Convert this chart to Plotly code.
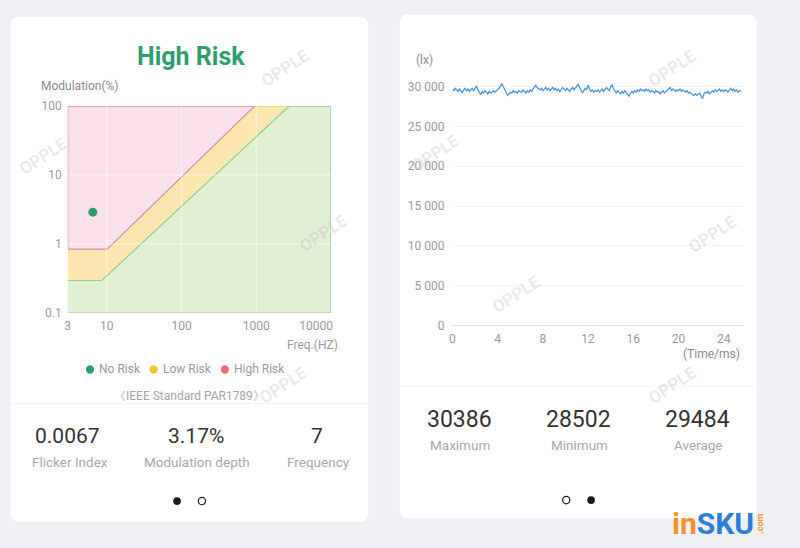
import math
import plotly.graph_objects as go

W, H = 800, 548

# ---------------- data: left chart (IEEE PAR1789 risk regions) ----------------
GREEN_F = [3, 8.57, 2760, 10000, 10000, 3]
GREEN_M = [0.296, 0.296, 100, 100, 0.1, 0.1]
YELLOW_F = [3, 10.1, 948, 2760, 8.57, 3]
YELLOW_M = [0.843, 0.843, 100, 100, 0.296, 0.296]
PINK_F = [3, 948, 10.1, 3, 3]
PINK_M = [100, 100, 0.843, 0.843, 100]
POINT_F = [6.5]
POINT_M = [2.9]
X_TICKS = [3, 10, 100, 1000, 10000]
X_TICKTEXT = ["3", "10", "100", "1000", "10000" + "\u00a0" * 10]
Y_TICKS = [0.1, 1, 10, 100]
Y_TICKTEXT = ["0.1", "1", "10", "100"]
GRID_F = [10, 100, 1000]
GRID_M = [1, 10]

LEFT_STATS = ["0.0067", "3.17%", "7"]
LEFT_LABELS = ["Flicker Index", "Modulation depth", "Frequency"]

# ---------------- data: right chart (illuminance vs time) ----------------
LUX = [
    29700, 29500, 29800, 29600, 29400, 29700, 29500, 29200,
    29600, 29800, 29500, 29700, 29400, 29600, 29800, 29500,
    29900, 30100, 29600, 29300, 29000, 29400, 29200, 29500,
    29300, 29100, 29400, 29200, 29300, 29500, 29300, 29400,
    29600, 29800, 30100, 30386, 30000, 29700, 29300, 28900,
    29100, 29300, 29200, 29500, 29300, 29400, 29200, 29500,
    29400, 29300, 29600, 29400, 29200, 29500, 29300, 29600,
    29400, 29700, 30000, 30200, 29900, 29700, 29600, 29800,
    29500, 29700, 29900, 29600, 29800, 29500, 29700, 29900,
    29600, 29800, 29500, 29700, 29400, 29600, 29900, 29700,
    29500, 29800, 29600, 29400, 29700, 29900, 29600, 29800,
    30000, 30300, 29900, 29600, 29200, 29500, 29800, 29600,
    30200, 29700, 29400, 29600, 29300, 29500, 29400, 29600,
    29300, 29500, 29700, 29400, 29600, 29900, 29700, 29500,
    30000, 30200, 29700, 29400, 29200, 29500, 29300, 29100,
    29400, 29200, 29500, 29300, 29100, 28800, 29200, 29400,
    29200, 29500, 29300, 29600, 29400, 29700, 29500, 29600,
    29400, 29700, 29500, 29600, 29300, 29500, 29400, 29200,
    29500, 29300, 29400, 29100, 29300, 29500, 29200, 29400,
    29600, 29800, 29900, 29500, 29700, 29600, 29400, 29600,
    29500, 29700, 29400, 29600, 29500, 29300, 29500, 29200,
    29300, 29100, 29000, 28900, 29100, 28900, 29000, 29200,
    28800, 28502, 29100, 29300, 29200, 29400, 29100, 29300,
    29500, 29300, 29600, 29400, 29500, 29700, 29400, 29600,
    29400, 29600, 29500, 29300, 29600, 29800, 29500, 29700,
    29400, 29600, 29300, 29500, 29400,
]
SAMPLE_MS = 0.125
TIME_MS = [i * SAMPLE_MS for i in range(len(LUX))]
T_TICKS = [0, 4, 8, 12, 16, 20, 24]
LUX_TICKS = [0, 5000, 10000, 15000, 20000, 25000, 30000]
LUX_TICKTEXT = ["0", "5 000", "10 000", "15 000", "20 000", "25 000", "30 000"]

RIGHT_STATS = ["30386", "28502", "29484"]
RIGHT_LABELS = ["Maximum", "Minimum", "Average"]

# ---------------- styling ----------------
FONT = "Roboto"
GRAY = "#9a9a9a"
DARK = "#333333"
GREEN_TXT = "#2f9e6e"
PINK_FILL, PINK_LINE = "#fbe1ec", "#dc8e9c"
YEL_FILL, YEL_LINE = "#fde6b0", "#f3cf80"
GRN_FILL, GRN_LINE = "#e1f0d3", "#8fcc97"


def px(x):
    return x / W


def py(y):
    return 1 - y / H


def rrect(x0, y0, x1, y1, r):
    return (f"M {px(x0 + r)},{py(y0)} L {px(x1 - r)},{py(y0)} "
            f"Q {px(x1)},{py(y0)} {px(x1)},{py(y0 + r)} L {px(x1)},{py(y1 - r)} "
            f"Q {px(x1)},{py(y1)} {px(x1 - r)},{py(y1)} L {px(x0 + r)},{py(y1)} "
            f"Q {px(x0)},{py(y1)} {px(x0)},{py(y1 - r)} L {px(x0)},{py(y0 + r)} "
            f"Q {px(x0)},{py(y0)} {px(x0 + r)},{py(y0)} Z")


fig = go.Figure()

# left chart regions
fig.add_trace(go.Scatter(x=YELLOW_F, y=YELLOW_M, fill="toself", fillcolor=YEL_FILL,
                         mode="lines", line=dict(color=YEL_LINE, width=1),
                         xaxis="x", yaxis="y", hoverinfo="skip"))
fig.add_trace(go.Scatter(x=GREEN_F, y=GREEN_M, fill="toself", fillcolor=GRN_FILL,
                         mode="lines", line=dict(color=GRN_LINE, width=1.2),
                         xaxis="x", yaxis="y", hoverinfo="skip"))
fig.add_trace(go.Scatter(x=PINK_F, y=PINK_M, fill="toself", fillcolor=PINK_FILL,
                         mode="lines", line=dict(color=PINK_LINE, width=1.2),
                         xaxis="x", yaxis="y", hoverinfo="skip"))
# grid lines drawn over the fills
gx, gy = [], []
for f in GRID_F:
    gx += [f, f, None]
    gy += [0.1, 100, None]
for m in GRID_M:
    gx += [3, 10000, None]
    gy += [m, m, None]
fig.add_trace(go.Scatter(x=gx, y=gy, mode="lines",
                         line=dict(color="rgba(255,255,255,0.55)", width=1),
                         xaxis="x", yaxis="y", hoverinfo="skip"))
fig.add_trace(go.Scatter(x=POINT_F, y=POINT_M, mode="markers",
                         marker=dict(color=GREEN_TXT, size=9),
                         xaxis="x", yaxis="y"))

# right chart line
fig.add_trace(go.Scatter(x=TIME_MS, y=LUX, mode="lines",
                         line=dict(color="#4f94dc", width=1.3),
                         xaxis="x2", yaxis="y2"))

tickfont = dict(family=FONT, size=12, color=GRAY)
fig.update_layout(
    width=W, height=H,
    margin=dict(l=0, r=0, t=0, b=0),
    paper_bgcolor="#eff0f3",
    plot_bgcolor="rgba(0,0,0,0)",
    showlegend=False,
    font=dict(family=FONT),
    xaxis=dict(type="log", domain=[px(67.7), px(343)],
               range=[math.log10(3), 4], anchor="y",
               tickvals=X_TICKS, ticktext=X_TICKTEXT, tickfont=tickfont,
               showgrid=False, zeroline=False, showline=False,
               ticks="", ticklabelstandoff=4, fixedrange=True),
    yaxis=dict(type="log", domain=[py(314), py(101.7)],
               range=[-1, 2], anchor="x",
               tickvals=Y_TICKS, ticktext=Y_TICKTEXT, tickfont=tickfont,
               showgrid=False, zeroline=False, showline=False,
               ticks="", ticklabelstandoff=5, fixedrange=True),
    xaxis2=dict(domain=[px(470), px(775)], range=[0, 25.8], anchor="y2",
                tickvals=T_TICKS, tickfont=tickfont,
                showgrid=False, zeroline=False, showline=True,
                linecolor="#e6e6e6", linewidth=1,
                ticks="", ticklabelstandoff=2, fixedrange=True),
    yaxis2=dict(domain=[py(326.7), py(73.6)], range=[0, 31000], anchor="x2",
                tickvals=LUX_TICKS, ticktext=LUX_TICKTEXT, tickfont=tickfont,
                showgrid=True, gridcolor="#f3f3f3", gridwidth=1,
                zeroline=False, showline=False,
                ticks="", ticklabelstandoff=7, fixedrange=True),
)

shapes = []
# cards
shapes.append(dict(type="path", xref="paper", yref="paper", layer="below",
                   path=rrect(8, 10, 382, 528, 9), fillcolor="white",
                   line=dict(width=0)))
shapes.append(dict(type="path", xref="paper", yref="paper", layer="below",
                   path=rrect(415, 8, 788, 525, 9), fillcolor="white",
                   line=dict(width=0)))
# separators
shapes.append(dict(type="line", xref="paper", yref="paper", layer="below",
                   x0=px(8), x1=px(382), y0=py(407), y1=py(407),
                   line=dict(color="#f2f2f2", width=1)))
shapes.append(dict(type="line", xref="paper", yref="paper", layer="below",
                   x0=px(415), x1=px(788), y0=py(389), y1=py(389),
                   line=dict(color="#f2f2f2", width=1)))


def circle(cx, cy, r, fill, line_color=None, lw=0):
    return dict(type="circle", xref="paper", yref="paper",
                x0=px(cx - r), x1=px(cx + r), y0=py(cy + r), y1=py(cy - r),
                fillcolor=fill,
                line=dict(color=line_color or fill, width=lw))


# legend dots
shapes.append(circle(91, 372, 4.3, GREEN_TXT))
shapes.append(circle(157.5, 372, 4.3, "#f7c234"))
shapes.append(circle(232, 372, 4.3, "#e8716f"))
# pager dots
shapes.append(circle(182, 507, 4, "#1a1a1a"))
shapes.append(circle(208, 507, 3.8, "white", "#1a1a1a", 1.2))
shapes.append(circle(589, 506, 3.8, "white", "#1a1a1a", 1.2))
shapes.append(circle(615, 506, 4, "#1a1a1a"))
fig.update_layout(shapes=shapes)

ann = []


def text(x, y, s, size=12, color=GRAY, xanchor="center", bold=False,
         angle=0, family=FONT):
    ann.append(dict(x=px(x), y=py(y), xref="paper", yref="paper",
                    text=f"<b>{s}</b>" if bold else s, showarrow=False,
                    xanchor=xanchor, yanchor="middle", textangle=angle,
                    font=dict(family=family, size=size, color=color)))


# watermarks
WM = "rgba(185,185,185,0.32)"
for (wx, wy) in [(295, 63), (42, 153), (335, 232), (293, 388),
                 (700, 63), (452, 150), (742, 233), (537, 295), (700, 388)]:
    text(wx, wy, "OPPLE", size=17, color=WM, bold=True, angle=-33)

# left card texts
text(197, 51, "High Risk", size=25, color=GREEN_TXT, bold=True)
text(38, 81, "Modulation(%)", size=12, color="#8a8a8a", xanchor="left")
text(352, 347, "Freq.(HZ)", size=12, color=GRAY, xanchor="right")
text(98, 372, "No Risk", size=12, xanchor="left")
text(165, 372, "Low Risk", size=12, xanchor="left")
text(239, 372, "High Risk", size=12, xanchor="left")
text(195, 399, "《IEEE Standard PAR1789》", size=12, color="#a5a5a5")
for cx, cxl, v, l in zip([67.5, 201.5, 328], [70, 203, 330], LEFT_STATS, LEFT_LABELS):
    text(cx, 440, v, size=21, color=DARK)
    text(cxl, 466.5, l, size=13.5, color="#a8a8a8")

# right card texts
text(441, 54, "(lx)", size=12, color="#8a8a8a")
text(773, 356, "(Time/ms)", size=12, color="#8a8a8a", xanchor="right")
for cx, v, l in zip([477, 602, 726], RIGHT_STATS, RIGHT_LABELS):
    text(cx, 423, v, size=23, color=DARK)
    text(cx + 1, 449, l, size=13.5, color="#a8a8a8")

# site logo
ann.append(dict(x=px(742), y=py(530), xref="paper", yref="paper", showarrow=False,
                xanchor="center", yanchor="middle",
                text="<b><span style='color:#f3922c'>in</span>"
                     "<span style='color:#2b7fd6'>SKU</span></b>",
                font=dict(family="Roboto", size=30)))
text(792, 530, ".com", size=9, color="#f3922c", bold=True, angle=-90)

fig.update_layout(annotations=ann)

fig.write_html("out.html")
